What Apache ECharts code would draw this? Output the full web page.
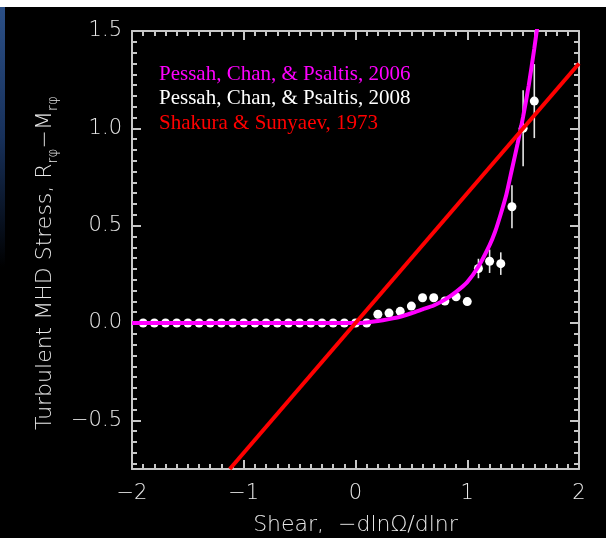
<!DOCTYPE html>
<html>
<head>
<meta charset="utf-8">
<style>
html,body{margin:0;padding:0;background:#000;}
#chart{width:606px;height:538px;}
</style>
<script src="https://cdn.jsdelivr.net/npm/echarts@6/dist/echarts.min.js"></script>
</head>
<body>
<div id="chart"></div>
<script>
// ---------- data ----------
// Pessah, Chan & Psaltis 2008 (simulation points with error bars)
var shear2008 = [-1.9,-1.8,-1.7,-1.6,-1.5,-1.4,-1.3,-1.2,-1.1,-1.0,-0.9,-0.8,-0.7,-0.6,-0.5,-0.4,-0.3,-0.2,-0.1,0.0,0.1,
                 0.2,0.3,0.4,0.5,0.6,0.7,0.8,0.9,1.0,1.1,1.2,1.3,1.4,1.5,1.6];
var stress2008 = [0,0,0,0,0,0,0,0,0,0,0,0,0,0,0,0,0,0,0,0,0,
                  0.045,0.051,0.06,0.087,0.13,0.13,0.113,0.135,0.11,0.28,0.317,0.305,0.597,1.0,1.14];
var err2008 = [0,0,0,0,0,0,0,0,0,0,0,0,0,0,0,0,0,0,0,0,0,
               0,0,0,0,0,0,0,0,0,0.05,0.06,0.058,0.11,0.195,0.19];
// Pessah, Chan & Psaltis 2006 (model curve)
var shear2006 = [-2.0,0.0,0.1,0.2,0.3,0.4,0.5,0.6,0.7,0.8,0.9,1.0,1.1,1.2,1.25,1.3,1.35,1.4,1.45,1.5,1.55,1.6,1.65,1.7];
var stress2006 = [0,0,0.003,0.01,0.02,0.032,0.05,0.07,0.09,0.12,0.16,0.21,0.29,0.40,0.47,0.56,0.66,0.79,0.92,1.06,1.22,1.41,1.62,1.88];
// Shakura & Sunyaev 1973 (linear)
var shearSS = [-1.125, 2.0];
var stressSS = [-0.75, 1.333];
// axis ticks
var xTickVals = [-2,-1,0,1,2];
var yTickVals = [-0.5,0.0,0.5,1.0,1.5];
var yTickLabels = ['\u22120.5','0.0','0.5','1.0','1.5'];
var legendNames = ['Pessah, Chan, & Psaltis, 2006','Pessah, Chan, & Psaltis, 2008','Shakura & Sunyaev, 1973'];
var xTitle = 'Shear,  \u2212dln\u03A9/dlnr';

// ---------- build ----------
var yMinorVals = [];
for (var k = -13; k <= 27; k++) {
  if (k % 9 !== 0) yMinorVals.push(Math.round(k / 18 * 1e6) / 1e6);
}
function zip(a, b) { return a.map(function (v, i) { return [v, b[i]]; }); }
var errData = shear2008.map(function (v, i) { return [v, stress2008[i], err2008[i]]; })
  .filter(function (d) { return d[2] > 0; });

var axisColor = '#c8c8c8';
var labelFont = { color: '#e8e8e8', fontFamily: 'DejaVu Sans', fontWeight: 200, fontSize: 21 };
var XMIN = -2, XMAX = 2, YMIN = -0.75, YMAX = 1.5;

function xAx(pos, showLabel) {
  return {
    type: 'value', min: XMIN, max: XMAX, interval: 1, position: pos,
    axisLine: { show: true, onZero: false, lineStyle: { color: axisColor, width: 2 } },
    axisTick: { show: true, inside: true, length: 9, lineStyle: { color: axisColor, width: 2 } },
    minorTick: { show: true, splitNumber: 10, length: 5, lineStyle: { color: axisColor, width: 2 } },
    splitLine: { show: false }, minorSplitLine: { show: false },
    axisLabel: Object.assign({ show: showLabel, margin: 14,
      formatter: function (v) { return v < 0 ? '\u2212' + Math.abs(v) : String(v); } }, labelFont),
    name: showLabel ? xTitle : '', nameLocation: 'middle', nameGap: 45,
    nameTextStyle: { color: '#e8e8e8', fontFamily: 'DejaVu Sans', fontWeight: 200, fontSize: 22 }
  };
}
function yAx(pos, major, showLabel) {
  return {
    type: 'value', min: YMIN, max: YMAX, position: pos,
    axisLine: { show: major, onZero: false, lineStyle: { color: axisColor, width: 2 } },
    axisTick: { show: true, inside: true, length: major ? 9 : 5,
      customValues: major ? yTickVals : yMinorVals, lineStyle: { color: axisColor, width: 2 } },
    splitLine: { show: false },
    axisLabel: Object.assign({ show: showLabel, margin: 10, customValues: yTickVals,
      formatter: function (v) { var i = yTickVals.indexOf(v); return i >= 0 ? yTickLabels[i] : ''; } }, labelFont),
    name: showLabel ? 'Turbulent MHD Stress, R{s|r\u03C6}\u2212M{s|r\u03C6}' : '',
    nameLocation: 'middle', nameGap: 72, nameRotate: 90,
    nameTextStyle: { color: '#e8e8e8', fontFamily: 'DejaVu Sans', fontWeight: 200, fontSize: 22, lineHeight: 30,
      padding: [0, 26, 0, 0],
      rich: { s: { color: '#e8e8e8', fontFamily: 'DejaVu Sans', fontWeight: 200, fontSize: 14, lineHeight: 14, verticalAlign: 'bottom' } } }
  };
}

var chart = echarts.init(document.getElementById('chart'), null, { renderer: 'canvas' });
chart.setOption({
  backgroundColor: '#000',
  animation: false,
  graphic: [
    { type: 'rect', left: 0, top: 0, shape: { width: 606, height: 7 }, style: { fill: '#ffffff' }, z: -10 },
    { type: 'rect', left: 0, top: 7, shape: { width: 5, height: 260 },
      style: { fill: new echarts.graphic.LinearGradient(0, 0, 0, 1, [
        { offset: 0, color: '#2b4f86' }, { offset: 0.5, color: '#17305a' }, { offset: 1, color: '#000' }]) }, z: -10 }
  ],
  grid: { left: 132, right: 27, top: 31, bottom: 69, containLabel: false, outerBoundsMode: 'none' },
  legend: {
    left: 154, top: 63, orient: 'vertical', icon: 'none', itemWidth: 0, itemHeight: 14, itemGap: 2.8, padding: 0,
    selectedMode: false,
    textStyle: { fontFamily: 'Liberation Serif', fontSize: 21, lineHeight: 22 },
    data: [
      { name: legendNames[0], textStyle: { color: '#ff00ff' } },
      { name: legendNames[1], textStyle: { color: '#ffffff' } },
      { name: legendNames[2], textStyle: { color: '#ff0000' } }
    ]
  },
  xAxis: [xAx('bottom', true), xAx('top', false)],
  yAxis: [yAx('left', true, true), yAx('left', false, false), yAx('right', true, false), yAx('right', false, false)],
  series: [
    {
      name: 'errbars', type: 'custom', xAxisIndex: 0, yAxisIndex: 0, clip: true, z: 2,
      data: errData,
      renderItem: function (params, api) {
        var x = api.value(0), y = api.value(1), e = api.value(2);
        var p1 = api.coord([x, y - e]), p2 = api.coord([x, y + e]);
        return { type: 'line', shape: { x1: p1[0], y1: p1[1], x2: p2[0], y2: p2[1] },
          style: { stroke: '#e6e6e6', lineWidth: 1.6 } };
      }
    },
    {
      name: legendNames[1], type: 'scatter', xAxisIndex: 0, yAxisIndex: 0, z: 3,
      symbol: 'circle', symbolSize: 9, itemStyle: { color: '#ffffff', opacity: 1 },
      data: zip(shear2008, stress2008)
    },
    {
      name: legendNames[0], type: 'line', xAxisIndex: 0, yAxisIndex: 0, z: 4, clip: true,
      showSymbol: false, smooth: 0.2, lineStyle: { color: '#ff00ff', width: 4 }, itemStyle: { color: '#ff00ff' },
      data: zip(shear2006, stress2006)
    },
    {
      name: legendNames[2], type: 'line', xAxisIndex: 0, yAxisIndex: 0, z: 5, clip: true,
      showSymbol: false, lineStyle: { color: '#ff0000', width: 4 }, itemStyle: { color: '#ff0000' },
      data: zip(shearSS, stressSS)
    }
  ]
});
</script>
</body>
</html>
